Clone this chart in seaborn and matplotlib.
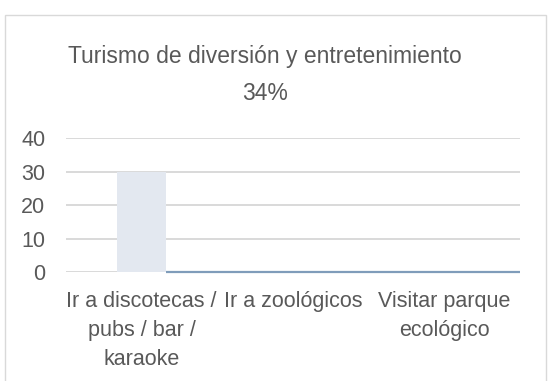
import matplotlib
matplotlib.use("Agg")
import matplotlib.pyplot as plt
from matplotlib.patches import Rectangle
import seaborn as sns
import pandas as pd

# Chart data
categories = ["Ir a discotecas /\npubs / bar /\nkaraoke", "Ir a zoológicos", "Visitar parque\necológico"]
values = [30, 0, 0]
y_ticks = [0, 10, 20, 30, 40]
title_lines = ["Turismo de diversión y entretenimiento", "34%"]

TEXT = "#595959"
GRID = "#D9D9D9"
BAR = "#E3E8F0"
BASE = "#7F9CBA"

sns.set_theme(style="white")
plt.rcParams["font.family"] = ["Liberation Sans", "DejaVu Sans"]

df = pd.DataFrame({"categoria": categories, "valor": values})

W, H = 549, 381
fig = plt.figure(figsize=(W / 100, H / 100), dpi=100)
ax = fig.add_axes([66 / W, 1 - 272 / H, (520 - 66) / W, (272 - 138.5) / H])

sns.barplot(data=df, x="categoria", y="valor", color=BAR, width=0.32,
            saturation=1, linewidth=0, ax=ax, zorder=3)

ax.set_xlim(-0.5, len(categories) - 0.5)
ax.set_ylim(y_ticks[0], y_ticks[-1])
ax.set_yticks(y_ticks)
ax.yaxis.grid(True, color=GRID, linewidth=1.4, zorder=0)
ax.set_axisbelow(True)
for s in ax.spines.values():
    s.set_visible(False)
ax.set_xlabel("")
ax.set_ylabel("")
ax.tick_params(axis="y", length=0, pad=15, labelsize=15.5, labelcolor=TEXT)
ax.tick_params(axis="x", length=0, pad=14, labelsize=15.5, labelcolor=TEXT)
ax.set_xticks(range(len(categories)))
ax.set_xticklabels(categories, linespacing=1.5)

# baseline drawn in blue from the end of the first bar to the right edge of the plot
first = ax.patches[0]
ax.hlines(0, first.get_x() + first.get_width(), ax.get_xlim()[1],
          color=BASE, linewidth=1.6, zorder=4, clip_on=False)

# two-line chart title
fig.text(265 / W, 1 - 62.5 / H, title_lines[0], ha="center", va="baseline",
         fontsize=16.5, color=TEXT)
fig.text(265 / W, 1 - 100.5 / H, title_lines[1], ha="center", va="baseline",
         fontsize=16.5, color=TEXT)

# chart frame
fig.patches.append(Rectangle((4.5 / W, -0.05), (546 - 4.5) / W, 1.05 - 14.5 / H,
                             transform=fig.transFigure, fill=False,
                             edgecolor=GRID, linewidth=1.0))

fig.savefig("out.png", dpi=100)
